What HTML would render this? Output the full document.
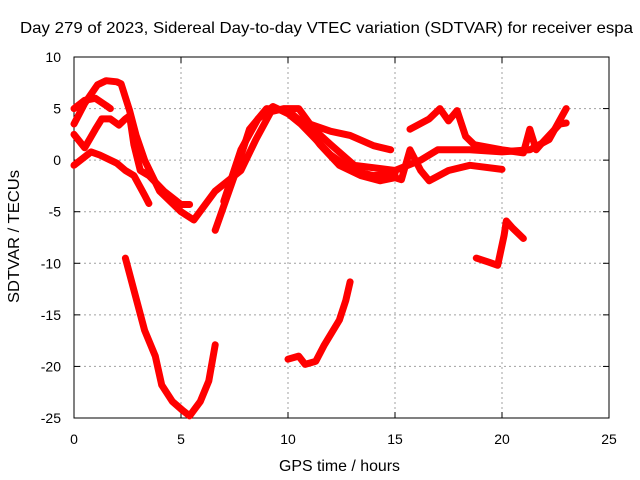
<!DOCTYPE html>
<html><head><meta charset="utf-8"><style>
body{margin:0;background:#fff}
svg{display:block;font-family:"Liberation Sans",sans-serif}
</style></head><body>
<svg id="chart" width="640" height="480" viewBox="0 0 640 480"></svg>
<script>
const xTicks=[0,5,10,15,20,25];
const yTicks=[10,5,0,-5,-10,-15,-20,-25];
const s1x=[0,0.5,1.1,1.5,2,2.2,2.6,2.9,3.3,4,5,5.6,6.6,7.8,8.5,9.2,9.8,10.5,11.2,12,13.1,15,16.2,17,18.5,20,21.3,22.2,23];
const s1y=[3.5,5.5,7.3,7.7,7.6,7.4,4.8,2.4,0,-3,-5,-5.8,-3,-1,2,4.7,5,5,3,1.5,-0.5,-1,0,1,1,0.8,1,2,5];
const s2x=[0,0.5,1,1.3,1.7,2.1,2.4,2.6,2.8,3.1,3.5,4.2,5,5.4];
const s2y=[2.5,1.2,3,4,4,3.4,4,4.3,1.5,-1,-1.5,-3,-4.3,-4.3];
const s2bx=[6.6,7.5,8.2,9,10,10.8,11.5,12.4,13.4,14.3,15,15.3,15.7,16.2,16.6,17.5,18.5,20];
const s2by=[-6.8,-1.5,3,5,4.8,3.4,1.5,-0.5,-1.5,-2,-1.7,-1.9,1,-1,-2,-1,-0.5,-0.9];
const s3x=[0,0.8,1.2,2,2.4,2.8,3.3,3.5];
const s3y=[-0.5,0.8,0.5,-0.3,-1,-1.5,-3.4,-4.2];
const s4x=[0,0.5,1,1.5,1.7];
const s4y=[5,5.8,6,5.3,5];
const s5x=[11,12,12.9,14,14.8];
const s5y=[3.5,2.8,2.4,1.4,1];
const s6x=[15.7,16.6,17.1,17.5,17.9,18.3,18.7,20,21,21.3,21.6,21.8,22.7,23];
const s6y=[3,4,5,3.8,4.8,2.3,1.5,1,0.7,3,1,1.5,3.5,3.6];
const s7x=[2.4,2.8,3.3,3.8,4.1,4.6,5.1,5.4,5.9,6.3,6.6];
const s7y=[-9.5,-12.6,-16.5,-19,-21.8,-23.4,-24.3,-24.8,-23.4,-21.4,-17.9];
const s8x=[10,10.5,10.8,11.3,11.7,12.4,12.7,12.9];
const s8y=[-19.3,-19,-19.8,-19.5,-17.9,-15.5,-13.6,-11.8];
const s9x=[18.8,19.4,19.8,19.9,20.1,20.2,20.5,20.7,21];
const s9y=[-9.5,-9.9,-10.2,-9.2,-7.3,-5.9,-6.6,-7,-7.6];
const s10x=[7,7.8,8.6,9.3,10,10.6,11.3,12,13,14,15];
const s10y=[-4,1,4,5.2,4.5,3.5,2,0.5,-1,-1.5,-1.3];
const series=[[s1x,s1y],[s2x,s2y],[s2bx,s2by],[s3x,s3y],[s4x,s4y],[s5x,s5y],[s6x,s6y],[s7x,s7y],[s8x,s8y],[s9x,s9y],[s10x,s10y]];

const L=74,R=609,T=57,B=418;
const X=v=>L+(v-0)/25*(R-L);
const Y=v=>B-(v+25)/35*(B-T);
const svg=document.getElementById('chart');
const NS='http://www.w3.org/2000/svg';
function mk(t,a,txt){const e=document.createElementNS(NS,t);for(const k in a)e.setAttribute(k,a[k]);if(txt!==undefined)e.textContent=txt;svg.appendChild(e);return e;}

xTicks.forEach(v=>{
  if(v>0&&v<25){const g=mk('line',{x1:X(v),x2:X(v),y1:T,y2:B,stroke:'#a0a0a0','stroke-dasharray':'2,3'});
  
  }
  const t=mk('text',{x:X(v),y:B+26,'text-anchor':'middle','font-size':14},v);
  
  
  mk('line',{x1:X(v),x2:X(v),y1:B,y2:B-6,stroke:'#000'});
  mk('line',{x1:X(v),x2:X(v),y1:T,y2:T+6,stroke:'#000'});
});
yTicks.forEach(v=>{
  if(v>-25&&v<10){const g=mk('line',{x1:L,x2:R,y1:Y(v),y2:Y(v),stroke:'#a0a0a0','stroke-dasharray':'2,3'});
  
  }
  const t=mk('text',{x:L-13,y:Y(v)+5,'text-anchor':'end','font-size':14},v);
  
  
  mk('line',{x1:L,x2:L+6,y1:Y(v),y2:Y(v),stroke:'#000'});
  mk('line',{x1:R,x2:R-6,y1:Y(v),y2:Y(v),stroke:'#000'});
});
const fr=mk('rect',{x:L,y:T,width:R-L,height:B-T,fill:'none',stroke:'#000'});



series.forEach(([xs,ys])=>{
  const pts=xs.map((x,i)=>X(x).toFixed(1)+','+Y(ys[i]).toFixed(1)).join(' ');
  const p=mk('polyline',{points:pts,fill:'none',stroke:'#ff0000','stroke-width':7,'stroke-linejoin':'round','stroke-linecap':'round'});
  
  
});

const ti=mk('text',{x:20,y:33,'font-size':16,textLength:613,lengthAdjust:'spacingAndGlyphs'},'Day 279 of 2023, Sidereal Day-to-day VTEC variation (SDTVAR) for receiver espa');


const xl=mk('text',{x:279,y:471,'font-size':16,textLength:121,lengthAdjust:'spacingAndGlyphs'},'GPS time / hours');


const yl=mk('text',{x:0,y:0,'font-size':16,textLength:133,lengthAdjust:'spacingAndGlyphs',transform:'translate(19 303) rotate(-90)'},'SDTVAR / TECUs');


</script>
</body></html>
